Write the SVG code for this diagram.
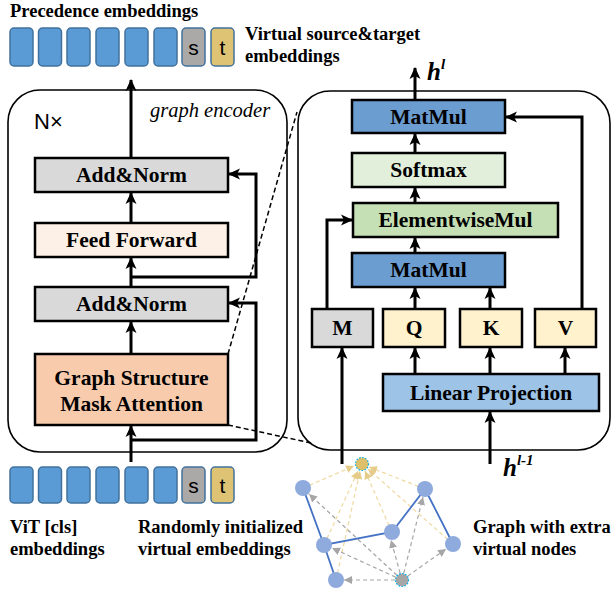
<svg xmlns="http://www.w3.org/2000/svg" width="613" height="595" viewBox="0 0 613 595">
<defs>
<marker id="ah" markerUnits="userSpaceOnUse" markerWidth="12" markerHeight="12" viewBox="0 0 12 12" refX="11" refY="6" orient="auto">
<path d="M0,0.5 L12,6 L0,11.5 L3,6 Z" fill="#000"/>
</marker>
<marker id="ag" markerUnits="userSpaceOnUse" markerWidth="8" markerHeight="8" viewBox="0 0 8 8" refX="8" refY="4" orient="auto">
<path d="M0,0 L8,4 L0,8 Z" fill="#e5cc8a"/>
</marker>
<marker id="ay" markerUnits="userSpaceOnUse" markerWidth="8" markerHeight="8" viewBox="0 0 8 8" refX="8" refY="4" orient="auto">
<path d="M0,0 L8,4 L0,8 Z" fill="#a6a6a6"/>
</marker>
</defs>
<style>
.lbl{font-family:"Liberation Serif","Times New Roman",serif;font-weight:bold;font-size:21.5px;text-anchor:middle;fill:#000}
.cap{font-family:"Liberation Serif","Times New Roman",serif;font-weight:bold;font-size:18.5px;fill:#000}
.box{stroke:#000;stroke-width:2.5}
.emb{fill:#5b9bd5;stroke:#41719c;stroke-width:1.5}
.st{font-family:"Liberation Sans",Arial,sans-serif;font-size:21px;text-anchor:middle;fill:#000}
.ln{fill:none;stroke:#000;stroke-width:3}
.dash{fill:none;stroke:#000;stroke-width:1.5;stroke-dasharray:5 3}
.frame{fill:none;stroke:#000;stroke-width:1.6}
.gold{fill:none;stroke:#efd9a0;stroke-width:1.2;stroke-dasharray:4 3}
.gray{fill:none;stroke:#a6a6a6;stroke-width:1.2;stroke-dasharray:4 3}
.edge{fill:none;stroke:#4472c4;stroke-width:1.8}
.nd{fill:#8faadc}
.hh{font-family:"Liberation Serif","Times New Roman",serif;font-weight:bold;font-style:italic;font-size:25px;fill:#000}
.nx{font-family:"Liberation Sans",Arial,sans-serif;font-size:22px;fill:#000}
.ge{font-family:"Liberation Serif","Times New Roman",serif;font-style:italic;font-size:20.5px;fill:#000}
</style>

<!-- titles -->
<text class="cap" x="10" y="17" font-size="18">Precedence embeddings</text>
<text class="cap" x="245" y="40">Virtual source&amp;target</text>
<text class="cap" x="245" y="62">embeddings</text>

<!-- top embeddings -->
<g id="top-embeddings">
<rect class="emb" x="10" y="28" width="23" height="38" rx="4"/>
<rect class="emb" x="38.5" y="28" width="23" height="38" rx="4"/>
<rect class="emb" x="67" y="28" width="23" height="38" rx="4"/>
<rect class="emb" x="96" y="28" width="23" height="38" rx="4"/>
<rect class="emb" x="125" y="28" width="23" height="38" rx="4"/>
<rect class="emb" x="154" y="28" width="23" height="38" rx="4"/>
<rect x="182" y="28" width="23" height="38" rx="4" fill="#aba9a8" stroke="#41719c" stroke-width="1.5"/>
<text class="st" x="193.5" y="55">s</text>
<rect x="211" y="28" width="23" height="38" rx="4" fill="#dfc374" stroke="#41719c" stroke-width="1.5"/>
<text class="st" x="222.5" y="55">t</text>
</g>

<!-- frames -->
<rect id="encoder-frame" class="frame" x="8" y="90" width="279" height="362" rx="32"/>
<rect id="attention-frame" class="frame" x="298" y="91" width="312" height="359" rx="32"/>
<text class="nx" x="34" y="129">N×</text>
<text class="ge" x="150" y="117">graph encoder</text>

<!-- left nodes -->
<g id="addnorm1"><rect class="box" x="35" y="158" width="193" height="34" fill="#d9d9d9"/><text class="lbl" x="131.5" y="182">Add&amp;Norm</text></g>
<g id="feedforward"><rect class="box" x="35" y="223" width="193" height="34" fill="#fdf0e6"/><text class="lbl" x="131.5" y="247">Feed Forward</text></g>
<g id="addnorm2"><rect class="box" x="35" y="287" width="193" height="34" fill="#d9d9d9"/><text class="lbl" x="131.5" y="311">Add&amp;Norm</text></g>
<g id="gsma"><rect class="box" x="35" y="354" width="193" height="71" fill="#f8cbad"/><text class="lbl" x="131.5" y="385">Graph Structure</text><text class="lbl" x="131.5" y="411">Mask Attention</text></g>

<!-- right nodes -->
<g id="matmul-top"><rect class="box" x="352" y="100" width="153" height="33" fill="#6c9dd1"/><text class="lbl" x="428.5" y="124">MatMul</text></g>
<g id="softmax"><rect class="box" x="352" y="153" width="153" height="34" fill="#e2efda"/><text class="lbl" x="428.5" y="177">Softmax</text></g>
<g id="elementwise"><rect class="box" x="353" y="203" width="205" height="34" fill="#c5e0b4"/><text class="lbl" x="455.5" y="227">ElementwiseMul</text></g>
<g id="matmul-bottom"><rect class="box" x="352" y="253" width="153" height="34" fill="#6c9dd1"/><text class="lbl" x="428.5" y="277">MatMul</text></g>
<g id="m"><rect class="box" x="312" y="309" width="61" height="38" fill="#d9d9d9"/><text class="lbl" x="342.5" y="335">M</text></g>
<g id="q"><rect class="box" x="383" y="309" width="62" height="38" fill="#fff2cc"/><text class="lbl" x="414" y="335">Q</text></g>
<g id="k"><rect class="box" x="460" y="309" width="62" height="38" fill="#fff2cc"/><text class="lbl" x="491" y="335">K</text></g>
<g id="v"><rect class="box" x="535" y="309" width="61" height="38" fill="#fff2cc"/><text class="lbl" x="565.5" y="335">V</text></g>
<g id="linear"><rect class="box" x="383" y="374" width="216" height="37" fill="#9dc3e6"/><text class="lbl" x="491" y="400">Linear Projection</text></g>

<!-- connectors -->
<g id="connectors">
<line class="ln" x1="131" y1="157" x2="131" y2="80" marker-end="url(#ah)"/>
<line class="ln" x1="131" y1="223" x2="131" y2="193" marker-end="url(#ah)"/>
<line class="ln" x1="131" y1="287" x2="131" y2="258" marker-end="url(#ah)"/>
<line class="ln" x1="131" y1="354" x2="131" y2="322" marker-end="url(#ah)"/>
<line class="ln" x1="131" y1="462" x2="131" y2="426" marker-end="url(#ah)"/>
<polyline class="ln" points="131,277 256,277 256,174 229,174" marker-end="url(#ah)"/>
<polyline class="ln" points="131,440 256,440 256,303 229,303" marker-end="url(#ah)"/>
<line class="dash" x1="228" y1="354" x2="297" y2="112"/>
<line class="dash" x1="228" y1="425" x2="311" y2="443"/>

<line class="ln" x1="415" y1="100" x2="415" y2="68" marker-end="url(#ah)"/>
<line class="ln" x1="415" y1="153" x2="415" y2="134" marker-end="url(#ah)"/>
<line class="ln" x1="415" y1="203" x2="415" y2="188" marker-end="url(#ah)"/>
<line class="ln" x1="415" y1="253" x2="415" y2="238" marker-end="url(#ah)"/>
<line class="ln" x1="415" y1="309" x2="415" y2="288" marker-end="url(#ah)"/>
<line class="ln" x1="490" y1="309" x2="490" y2="288" marker-end="url(#ah)"/>
<line class="ln" x1="415" y1="374" x2="415" y2="348" marker-end="url(#ah)"/>
<line class="ln" x1="490" y1="374" x2="490" y2="348" marker-end="url(#ah)"/>
<line class="ln" x1="565" y1="374" x2="565" y2="348" marker-end="url(#ah)"/>
<polyline class="ln" points="582,309 582,117 506,117" marker-end="url(#ah)"/>
<polyline class="ln" points="327,309 327,220 352,220" marker-end="url(#ah)"/>
<line class="ln" x1="342" y1="464" x2="342" y2="348" marker-end="url(#ah)"/>
<line class="ln" x1="490" y1="464" x2="490" y2="412" marker-end="url(#ah)"/>
</g>

<text class="hh" x="427" y="80">h<tspan font-size="15" dy="-11">l</tspan></text>
<text class="hh" x="503" y="476">h<tspan font-size="15" dy="-11">l-1</tspan></text>

<!-- bottom embeddings -->
<g id="bottom-embeddings">
<rect class="emb" x="10" y="467" width="23" height="36" rx="4"/>
<rect class="emb" x="38.5" y="467" width="23" height="36" rx="4"/>
<rect class="emb" x="67" y="467" width="23" height="36" rx="4"/>
<rect class="emb" x="96" y="467" width="23" height="36" rx="4"/>
<rect class="emb" x="125" y="467" width="23" height="36" rx="4"/>
<rect class="emb" x="154" y="467" width="23" height="36" rx="4"/>
<rect x="182" y="467" width="23" height="36" rx="4" fill="#aba9a8" stroke="#41719c" stroke-width="1.5"/>
<text class="st" x="193.5" y="493">s</text>
<rect x="211" y="467" width="23" height="36" rx="4" fill="#dfc374" stroke="#41719c" stroke-width="1.5"/>
<text class="st" x="222.5" y="493">t</text>
</g>
<text class="cap" x="10" y="533">ViT [cls]</text>
<text class="cap" x="10" y="555">embeddings</text>
<text class="cap" x="138" y="533">Randomly initialized</text>
<text class="cap" x="138" y="555">virtual embeddings</text>
<text class="cap" x="473" y="533">Graph with extra</text>
<text class="cap" x="473" y="555">virtual nodes</text>

<!-- graph -->
<g id="graph">
<g id="graph-virtual-edges">
<line class="gold" x1="303" y1="488" x2="354" y2="466" marker-end="url(#ag)"/>
<line class="gold" x1="425" y1="489" x2="369" y2="467" marker-end="url(#ag)"/>
<line class="gold" x1="392" y1="532" x2="365" y2="471" marker-end="url(#ag)"/>
<line class="gold" x1="324" y1="545" x2="358" y2="471" marker-end="url(#ag)"/>
<line class="gold" x1="453" y1="544" x2="368" y2="469" marker-end="url(#ag)"/>
<line class="gold" x1="336" y1="580" x2="360" y2="471" marker-end="url(#ag)"/>
<line class="gray" x1="402" y1="580" x2="309" y2="494" marker-end="url(#ay)"/>
<line class="gray" x1="402" y1="580" x2="423" y2="497" marker-end="url(#ay)"/>
<line class="gray" x1="402" y1="580" x2="391" y2="540" marker-end="url(#ay)"/>
<line class="gray" x1="402" y1="580" x2="332" y2="548" marker-end="url(#ay)"/>
<line class="gray" x1="402" y1="580" x2="446" y2="549" marker-end="url(#ay)"/>
<line class="gray" x1="402" y1="580" x2="344" y2="580" marker-end="url(#ay)"/>
</g>
<g id="graph-edges">
<polyline class="edge" points="303,488 324,545 392,532 425,489 453,544"/>
<line class="edge" x1="324" y1="545" x2="336" y2="580"/>
</g>
<circle class="nd" cx="303" cy="488" r="8"/>
<circle class="nd" cx="425" cy="489" r="8"/>
<circle class="nd" cx="392" cy="532" r="8"/>
<circle class="nd" cx="324" cy="545" r="8"/>
<circle class="nd" cx="453" cy="544" r="8"/>
<circle class="nd" cx="336" cy="580" r="8"/>
<circle cx="362" cy="464" r="6.5" fill="#dfc06a" stroke="#00b0f0" stroke-width="1.2" stroke-dasharray="1.5 1.5"/>
<circle cx="402" cy="580" r="6.5" fill="#a6a6a6" stroke="#00b0f0" stroke-width="1.2" stroke-dasharray="1.5 1.5"/>
</g>
</svg>
